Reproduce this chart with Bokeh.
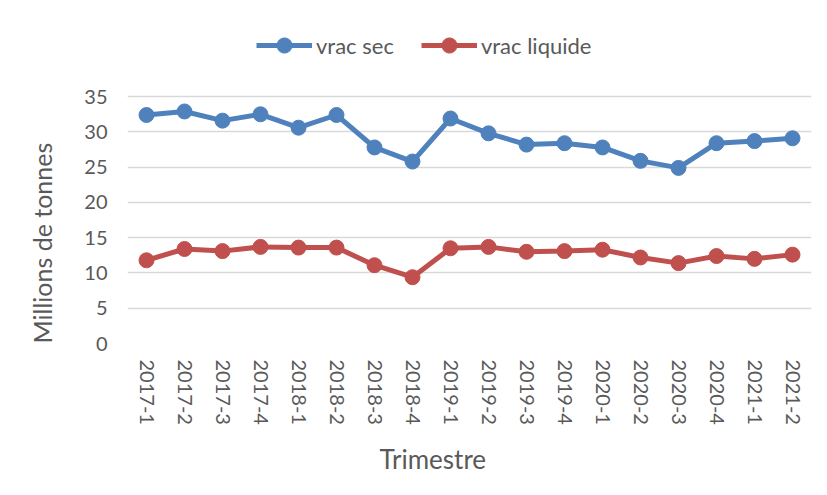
import math
from bokeh.plotting import figure
from bokeh.models import Range1d, FactorRange, Legend, LegendItem, Title
from bokeh.embed import file_html
from bokeh.resources import INLINE

quarters = ["2017-1", "2017-2", "2017-3", "2017-4", "2018-1", "2018-2", "2018-3", "2018-4",
            "2019-1", "2019-2", "2019-3", "2019-4", "2020-1", "2020-2", "2020-3", "2020-4",
            "2021-1", "2021-2"]
vrac_sec = [32.4, 32.9, 31.6, 32.5, 30.6, 32.4, 27.8, 25.8,
            31.9, 29.8, 28.2, 28.4, 27.8, 25.9, 24.9, 28.4, 28.7, 29.1]
vrac_liquide = [11.8, 13.4, 13.1, 13.7, 13.6, 13.6, 11.1, 9.4,
                13.5, 13.7, 13.0, 13.1, 13.3, 12.2, 11.4, 12.4, 12.0, 12.6]
y_ticks = [0, 5, 10, 15, 20, 25, 30, 35]

FONT = "Lato"
TXT = "#595959"
BLUE = "#4F81BD"
RED = "#C0504D"

# frame extends above the 35 gridline to hold the legend (no visible outline)
p = figure(width=819, height=487, x_range=FactorRange(*quarters), y_range=Range1d(0, 45.8),
           output_backend="svg", toolbar_location=None,
           min_border_left=127, min_border_right=8, min_border_top=20, min_border_bottom=141)
p.outline_line_color = None
p.background_fill_color = "white"
p.border_fill_color = "white"

p.xgrid.visible = False
p.ygrid.grid_line_color = "#D9D9D9"
p.ygrid.grid_line_width = 1.5

p.yaxis.ticker = y_ticks
for ax in (p.xaxis[0], p.yaxis[0]):
    ax.axis_line_color = None
    ax.major_tick_line_color = None
    ax.minor_tick_line_color = None
    ax.major_tick_out = 0
    ax.major_tick_in = 0
    ax.major_label_text_font = FONT
    ax.major_label_text_font_size = "20px"
    ax.major_label_text_color = TXT

p.yaxis.major_label_standoff = 20
p.xaxis.major_label_orientation = -math.pi / 2
p.xaxis.major_label_standoff = 16

ytitle = Title(text="Millions de tonnes", align="left", offset=0, standoff=49,
               text_font=FONT, text_font_size="25px", text_color=TXT, text_font_style="normal")
p.add_layout(ytitle, "left")
xtitle = Title(text="Trimestre", align="left", offset=252, standoff=26,
               text_font=FONT, text_font_size="26px", text_color=TXT, text_font_style="normal")
p.add_layout(xtitle, "below")

l1 = p.line(quarters, vrac_sec, line_color=BLUE, line_width=5)
s1 = p.scatter(quarters, vrac_sec, marker="circle", size=15, fill_color=BLUE, line_color=BLUE)
l2 = p.line(quarters, vrac_liquide, line_color=RED, line_width=5)
s2 = p.scatter(quarters, vrac_liquide, marker="circle", size=15, fill_color=RED, line_color=RED)

legend = Legend(items=[LegendItem(label="vrac sec", renderers=[l1, s1]),
                       LegendItem(label="vrac liquide", renderers=[l2, s2])],
                orientation="horizontal", location=(129, 279),
                padding=0, spacing=27, label_standoff=4, glyph_width=56, glyph_height=38,
                border_line_color=None, background_fill_alpha=0,
                label_text_font=FONT, label_text_font_size="22px", label_text_color=TXT)
p.add_layout(legend, "center")

open("out.html", "w").write(file_html(p, INLINE))
